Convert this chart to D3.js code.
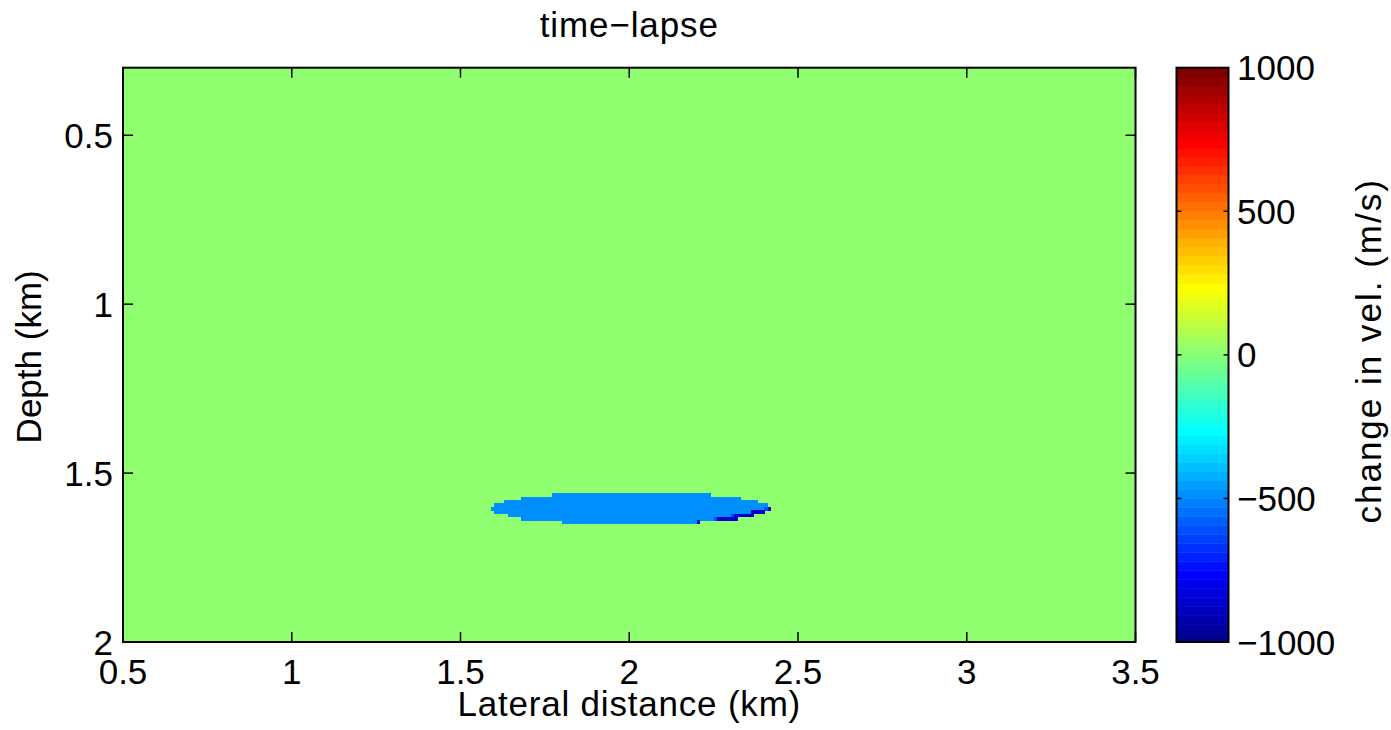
<!DOCTYPE html>
<html>
<head>
<meta charset="utf-8">
<script src="https://cdn.jsdelivr.net/npm/d3@7"></script>
<style>
  html, body { margin: 0; padding: 0; background: #fff; }
  svg { display: block; }
  text { font-family: "Liberation Sans", Arial, Helvetica, sans-serif; fill: #000; }
</style>
</head>
<body>
<svg id="chart" width="1391" height="730"></svg>
<script>
// Axis ticks
const xTicks = [0.5, 1, 1.5, 2, 2.5, 3, 3.5];
const yTicks = [0.5, 1, 1.5, 2];
const cbTicks = [-1000, -500, 0, 500, 1000];

// Model extent (km) and colour limits (m/s)
const xExtent = [0.5, 3.5];
const depthExtent = [0.3, 2.0];
const colorLimits = [-1000, 1000];
const cellSize = 0.01;          // grid spacing, km
const backgroundValue = 0;      // unchanged velocity everywhere else

// Velocity-change plume: one entry per 10 m row (top depth, left edge, right edge)
const rowDepth = [1.56, 1.57, 1.58, 1.59, 1.60, 1.61, 1.62, 1.63, 1.64];
const rowStart = [1.77, 1.68, 1.63, 1.60, 1.59, 1.60, 1.64, 1.68, 1.80];
const rowEnd   = [2.24, 2.33, 2.38, 2.41, 2.42, 2.40, 2.37, 2.32, 2.21];
const rowValue = -500;

// Stronger decrease along the lower-right rim of the plume
const rimDepth = [1.60, 1.60, 1.61, 1.62, 1.62, 1.63, 1.63, 1.64];
const rimStart = [2.40, 2.41, 2.36, 2.30, 2.31, 2.25, 2.26, 2.20];
const rimEnd   = [2.41, 2.42, 2.40, 2.31, 2.37, 2.26, 2.32, 2.21];
const rimValue = [-620, -860, -860, -620, -860, -620, -860, -860];

// Classic 64-entry jet colormap
function jet(m) {
  const n = Math.ceil(m / 4);
  const u = [];
  for (let i = 1; i <= n; i++) u.push(i / n);
  for (let i = 1; i < n; i++) u.push(1);
  for (let i = n; i >= 1; i--) u.push(i / n);
  const off = Math.ceil(n / 2) - (m % 4 === 1 ? 1 : 0);
  const cols = Array.from({length: m}, () => [0, 0, 0]);
  u.forEach((val, k) => {
    const g = off + k + 1, r = g + n, b = g - n;
    if (r >= 1 && r <= m) cols[r - 1][0] = val;
    if (g >= 1 && g <= m) cols[g - 1][1] = val;
    if (b >= 1 && b <= m) cols[b - 1][2] = val;
  });
  return cols.map(c => d3.rgb(Math.round(c[0] * 255), Math.round(c[1] * 255), Math.round(c[2] * 255)).formatHex());
}
const jetColors = jet(64);

const svg = d3.select("#chart");
const plot = {left: 123, right: 1135.5, top: 67.7, bottom: 642};
const cb = {left: 1176.5, right: 1228.5, top: 67.7, bottom: 642};
const fontSize = 35;

const x = d3.scaleLinear().domain(xExtent).range([plot.left, plot.right]);
const y = d3.scaleLinear().domain(depthExtent).range([plot.top, plot.bottom]);
const color = d3.scaleQuantize().domain(colorLimits).range(jetColors);

// Background field
const g = svg.append("g");
g.append("rect")
  .attr("x", x(xExtent[0])).attr("y", y(depthExtent[0]))
  .attr("width", x(xExtent[1]) - x(xExtent[0]))
  .attr("height", y(depthExtent[1]) - y(depthExtent[0]))
  .attr("fill", color(backgroundValue));

// Plume rows
const rows = rowDepth.map((d, i) => ({d, x0: rowStart[i], x1: rowEnd[i], v: rowValue}));
const rims = rimDepth.map((d, i) => ({d, x0: rimStart[i], x1: rimEnd[i], v: rimValue[i]}));
g.selectAll("rect.cell")
  .data(rows.concat(rims))
  .join("rect")
  .attr("class", "cell")
  .attr("x", r => x(r.x0))
  .attr("y", r => y(r.d))
  .attr("width", r => x(r.x1) - x(r.x0) + 0.3)
  .attr("height", r => y(r.d + cellSize) - y(r.d) + 0.3)
  .attr("fill", r => color(r.v))
  .attr("shape-rendering", "crispEdges");

// Axes box with inward ticks on all sides
const axes = svg.append("g");
const tickLen = 10;
xTicks.forEach(t => {
  axes.append("line").attr("x1", x(t)).attr("x2", x(t))
    .attr("y1", plot.bottom).attr("y2", plot.bottom - tickLen)
    .attr("stroke", "#000").attr("stroke-width", 1.5);
  axes.append("line").attr("x1", x(t)).attr("x2", x(t))
    .attr("y1", plot.top).attr("y2", plot.top + tickLen)
    .attr("stroke", "#000").attr("stroke-width", 1.5);
  axes.append("text").attr("x", x(t)).attr("y", 684)
    .attr("text-anchor", "middle").attr("font-size", fontSize).text(d3.format("")(t));
});
yTicks.forEach(t => {
  axes.append("line").attr("x1", plot.left).attr("x2", plot.left + tickLen)
    .attr("y1", y(t)).attr("y2", y(t))
    .attr("stroke", "#000").attr("stroke-width", 1.5);
  axes.append("line").attr("x1", plot.right).attr("x2", plot.right - tickLen)
    .attr("y1", y(t)).attr("y2", y(t))
    .attr("stroke", "#000").attr("stroke-width", 1.5);
  axes.append("text").attr("x", 113).attr("y", y(t)).attr("dy", "0.36em")
    .attr("text-anchor", "end").attr("font-size", fontSize).text(d3.format("")(t));
});
axes.append("rect")
  .attr("x", plot.left).attr("y", plot.top)
  .attr("width", plot.right - plot.left).attr("height", plot.bottom - plot.top)
  .attr("fill", "none").attr("stroke", "#000").attr("stroke-width", 2);

// Titles
svg.append("text").attr("x", (plot.left + plot.right) / 2).attr("y", 37)
  .attr("text-anchor", "middle").attr("font-size", fontSize)
  .attr("letter-spacing", 0.9).text("time\u2212lapse");
svg.append("text").attr("x", (plot.left + plot.right) / 2).attr("y", 716)
  .attr("text-anchor", "middle").attr("font-size", fontSize)
  .attr("letter-spacing", 0.8).text("Lateral distance (km)");
svg.append("text").attr("transform", `translate(41, ${(plot.top + plot.bottom) / 2 + 2}) rotate(-90)`)
  .attr("text-anchor", "middle").attr("font-size", fontSize).text("Depth (km)");

// Colour bar
const cy = d3.scaleLinear().domain(colorLimits).range([cb.bottom, cb.top]);
const step = (colorLimits[1] - colorLimits[0]) / jetColors.length;
const cbar = svg.append("g");
cbar.selectAll("rect.band")
  .data(jetColors)
  .join("rect")
  .attr("class", "band")
  .attr("x", cb.left)
  .attr("y", (c, i) => cy(colorLimits[0] + (i + 1) * step))
  .attr("width", cb.right - cb.left)
  .attr("height", (c, i) => cy(colorLimits[0] + i * step) - cy(colorLimits[0] + (i + 1) * step) + 0.5)
  .attr("fill", c => c);
cbTicks.forEach(t => {
  cbar.append("line").attr("x1", cb.left).attr("x2", cb.left + 5)
    .attr("y1", cy(t)).attr("y2", cy(t)).attr("stroke", "#000").attr("stroke-width", 1.5);
  cbar.append("line").attr("x1", cb.right).attr("x2", cb.right - 5)
    .attr("y1", cy(t)).attr("y2", cy(t)).attr("stroke", "#000").attr("stroke-width", 1.5);
  cbar.append("text").attr("x", 1237).attr("y", cy(t)).attr("dy", "0.36em")
    .attr("font-size", fontSize).text(t < 0 ? "\u2212" + Math.abs(t) : String(t));
});
cbar.append("rect")
  .attr("x", cb.left).attr("y", cb.top)
  .attr("width", cb.right - cb.left).attr("height", cb.bottom - cb.top)
  .attr("fill", "none").attr("stroke", "#000").attr("stroke-width", 2);
svg.append("text").attr("transform", `translate(1381, ${(cb.top + cb.bottom) / 2 - 4}) rotate(-90)`)
  .attr("text-anchor", "middle").attr("font-size", fontSize)
  .attr("letter-spacing", 2).text("change in vel. (m/s)");
</script>
</body>
</html>
